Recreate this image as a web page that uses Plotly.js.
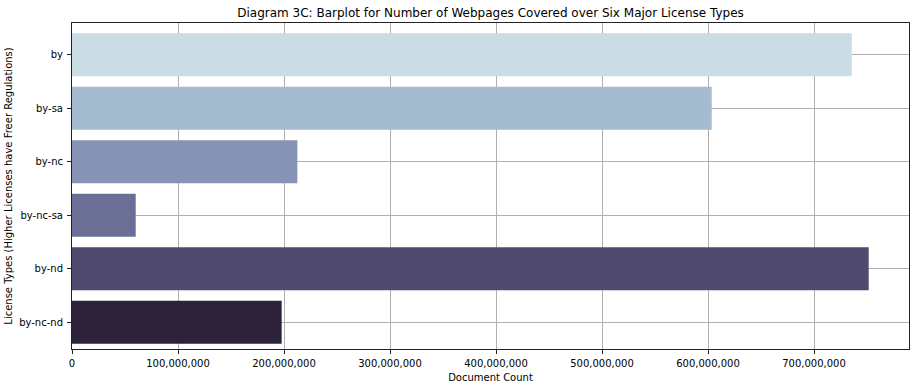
<!DOCTYPE html>
<html>
<head>
<meta charset="utf-8">
<script src="https://cdn.plot.ly/plotly-3.0.1.min.js"></script>
<style>html,body{margin:0;padding:0;background:#fff;}#chart{width:916px;height:387px;}</style>
</head>
<body>
<div id="chart"></div>
<script>
const licenses = ["by", "by-sa", "by-nc", "by-nc-sa", "by-nd", "by-nc-nd"];
const documentCounts = [735600000, 603500000, 212600000, 60100000, 751600000, 197800000];
const barColors = ["#cadde5", "#a5bbcf", "#8693b5", "#6b6f96", "#504a6e", "#2c2239"];
const xTickValues = [0, 100000000, 200000000, 300000000, 400000000, 500000000, 600000000, 700000000];
const xTickLabels = ["0", "100,000,000", "200,000,000", "300,000,000", "400,000,000", "500,000,000", "600,000,000", "700,000,000"];

const font = "DejaVu Sans, sans-serif";
const trace = {
  type: "bar",
  orientation: "h",
  y: licenses,
  x: documentCounts,
  marker: {color: barColors, line: {width: 0}},
  width: 0.8,
  hoverinfo: "x+y"
};
const layout = {
  width: 916, height: 387,
  margin: {l: 72, r: 7, t: 23, b: 38, pad: 0},
  paper_bgcolor: "#fff", plot_bgcolor: "#fff",
  showlegend: false,
  title: {text: "Diagram 3C: Barplot for Number of Webpages Covered over Six Major License Types",
          font: {family: font, size: 12, color: "#000"}, x: 0.5, xref: "paper", xanchor: "center", y: 0.967, yanchor: "middle"},
  xaxis: {
    range: [0, 789600000],
    tickvals: xTickValues, ticktext: xTickLabels,
    ticks: "outside", ticklen: 4, tickwidth: 1, tickcolor: "#222",
    ticklabelstandoff: 1,
    showgrid: true, gridcolor: "#b0b0b0", gridwidth: 1,
    showline: true, linecolor: "#222", linewidth: 1, mirror: true,
    zeroline: false, layer: "above traces",
    tickfont: {family: font, size: 10, color: "#000"},
    title: {text: "Document Count", font: {family: font, size: 10, color: "#000"}, standoff: 5}
  },
  yaxis: {
    type: "category",
    range: [5.5, -0.593],
    ticks: "outside", ticklen: 4, tickwidth: 1, tickcolor: "#222",
    ticklabelstandoff: 2,
    showgrid: true, gridcolor: "#b0b0b0", gridwidth: 1,
    showline: true, linecolor: "#222", linewidth: 1, mirror: true,
    zeroline: false, layer: "above traces",
    tickfont: {family: font, size: 10, color: "#000"},
    title: {text: "License Types (Higher Licenses have Freer Regulations)", font: {family: font, size: 10, color: "#000"}, standoff: 4}
  },
  bargap: 0.2
};
Plotly.newPlot("chart", [trace], layout, {displayModeBar: false, staticPlot: true});
</script>
</body>
</html>
